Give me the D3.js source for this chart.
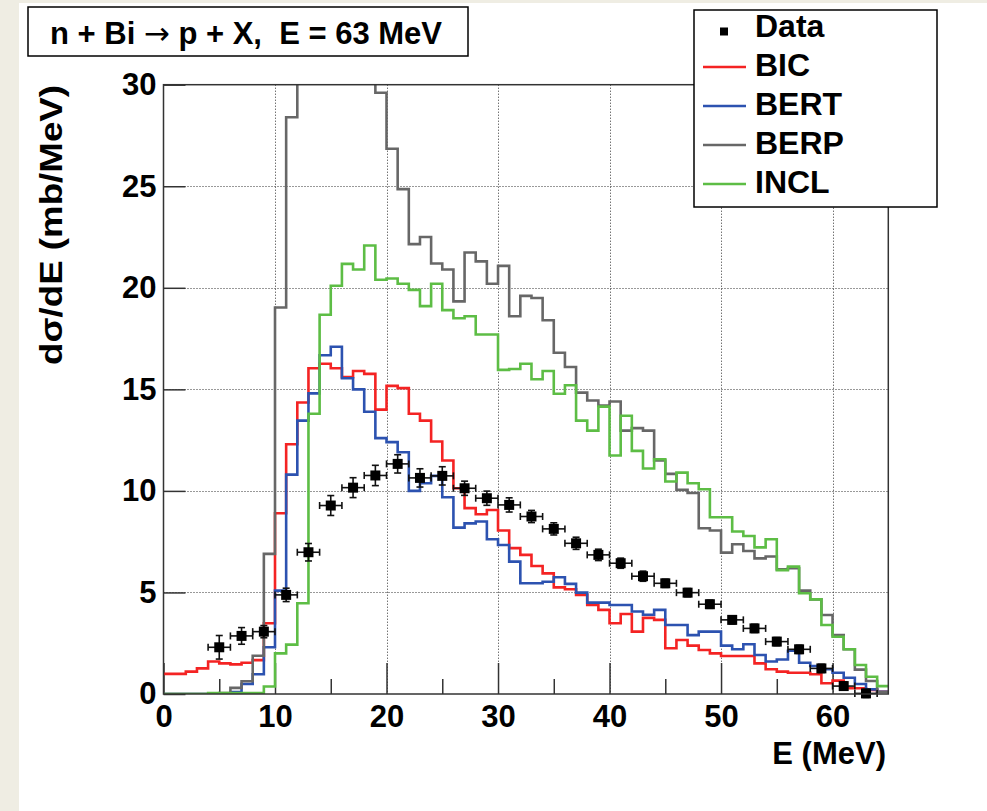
<!DOCTYPE html>
<html>
<head>
<meta charset="utf-8">
<script src="https://cdn.jsdelivr.net/npm/d3@7"></script>
<style>
html, body { margin: 0; padding: 0; background: #efede3; }
svg { display: block; }
text { font-family: "Liberation Sans", Arial, Helvetica, sans-serif; font-weight: bold; fill: #000; }
</style>
</head>
<body>
<svg id="chart" width="987" height="811"></svg>
<script>
// histogram bins: 1 MeV wide, 0..65 MeV
const binWidth = 1;
const nBins = 65;

const bic = [0.99, 0.99, 1.1, 1.26, 1.6, 1.51, 1.46, 1.54, 1.67, 3.48,
	8.9, 12.3, 14.35, 16.04, 16.26, 16.04, 15.6, 15.9, 15.76, 14.0,
	15.17, 15.06, 13.8, 13.46, 12.43, 11.5, 10.13, 9.15, 8.85, 9.06,
	8.05, 7.18, 6.85, 6.3, 5.94, 5.25, 5.16, 4.88, 4.38, 4.14,
	3.48, 3.94, 3.07, 3.75, 3.65, 2.25, 2.66, 2.38, 2.17, 2.0,
	1.87, 1.87, 1.87, 1.51, 1.22, 1.1, 1.05, 1.05, 0.97, 0.53,
	0.66, 0.28, 0.28, 0.2, 0.11];

const bert = [0, 0, 0, 0, 0, 0, 0.1, 0.49, 0.97, 2.3,
	5.09, 10.8, 13.46, 14.8, 16.68, 17.1, 15.55, 15.0, 13.9, 12.6,
	12.4, 11.9, 10.0, 10.38, 10.74, 9.69, 8.19, 8.4, 8.49, 7.62,
	7.34, 6.52, 5.45, 5.45, 5.53, 5.75, 5.42, 4.99, 4.5, 4.5,
	4.38, 4.38, 4.06, 3.9, 4.14, 3.4, 3.4, 2.9, 3.07, 3.07,
	2.38, 2.2, 2.45, 1.92, 1.6, 1.7, 2.13, 1.54, 1.38, 1.22,
	1.05, 0.8, 0.49, 0.23, 0.11];

// bins 12-18 run off the top of the frame; values there are guesses
const berp = [0, 0, 0, 0, 0, 0.05, 0.3, 0.63, 1.88, 6.9,
	19.03, 28.4, 32, 35, 37, 37, 36, 34, 31.5, 29.6,
	26.85, 24.86, 22.15, 22.5, 21.2, 20.9, 19.33, 21.74, 21.3, 20.2,
	21.08, 18.6, 19.6, 19.5, 18.4, 16.8, 16.1, 14.84, 14.45, 14.2,
	14.4, 12.97, 13.09, 12.97, 11.5, 10.84, 10.05, 9.9, 8.16, 8.05,
	6.96, 7.37, 7.04, 6.68, 6.77, 6.14, 6.19, 5.09, 4.66, 3.89,
	2.9, 2.2, 1.2, 0.64, 0.1];

const incl = [0, 0, 0, 0, 0.05, 0.05, 0.05, 0.05, 0.05, 0.37,
	2.0, 2.43, 4.47, 13.8, 18.67, 20.1, 21.18, 20.9, 22.08, 20.4,
	20.46, 20.2, 19.9, 19.1, 20.2, 18.9, 18.5, 18.6, 17.7, 17.7,
	15.96, 16.0, 16.26, 15.5, 15.9, 14.78, 15.2, 13.46, 12.97, 14.15,
	11.74, 13.7, 11.97, 11.1, 11.56, 10.46, 10.9, 10.38, 10.08, 8.7,
	8.7, 8.0, 7.78, 7.22, 7.62, 6.1, 6.27, 4.96, 4.66, 3.4,
	2.82, 2.2, 1.43, 0.85, 0.39];

const dataE = [5, 7, 9, 11, 13, 15, 17, 19, 21, 23, 25, 27, 29, 31, 33,
	35, 37, 39, 41, 43, 45, 47, 49, 51, 53, 55, 57, 59, 61, 63];
const dataY = [2.3, 2.86, 3.07, 4.88, 6.98, 9.28, 10.16, 10.76, 11.33, 10.64,
	10.74, 10.13, 9.64, 9.31, 8.74, 8.13, 7.42, 6.85, 6.44, 5.8,
	5.45, 4.99, 4.42, 3.65, 3.23, 2.58, 2.2, 1.26, 0.39, 0.03];
const dataErrY = [0.58, 0.41, 0.3, 0.33, 0.43, 0.49, 0.49, 0.5, 0.45, 0.45,
	0.45, 0.35, 0.35, 0.35, 0.3, 0.3, 0.3, 0.28, 0.25, 0.25,
	0.2, 0.2, 0.2, 0.2, 0.2, 0.2, 0.2, 0.2, 0.2, 0.2];
const dataErrE = 1;

const xMajor = [0, 10, 20, 30, 40, 50, 60];
const xMinor = [5, 15, 25, 35, 45, 55];
const yMajor = [0, 5, 10, 15, 20, 25, 30];

const series = [
	{ name: "BIC", values: bic, color: "#f42323" },
	{ name: "BERT", values: bert, color: "#2c52b0" },
	{ name: "BERP", values: berp, color: "#676767" },
	{ name: "INCL", values: incl, color: "#5dbd45" }
];

const svg = d3.select("#chart");
const W = 987, H = 811;
const pLeft = 163.5, pRight = 888.3, pTop = 84.7, pBottom = 694;

// white page over the cream border
svg.append("rect").attr("x", 19).attr("y", 3).attr("width", W - 19).attr("height", H - 3).attr("fill", "#fff");

const x = d3.scaleLinear().domain([0, nBins * binWidth]).range([pLeft, pRight]);
const y = d3.scaleLinear().domain([0, 30]).range([pBottom, pTop]);

// dotted grid
const grid = svg.append("g").attr("stroke", "#333").attr("stroke-width", 1).attr("stroke-dasharray", "1,2");
grid.selectAll("line.gx").data(xMajor.filter(d => d > 0)).join("line")
	.attr("x1", d => Math.round(x(d)) + 0.5).attr("x2", d => Math.round(x(d)) + 0.5)
	.attr("y1", pTop).attr("y2", pBottom);
grid.selectAll("line.gy").data(yMajor.filter(d => d > 0 && d < 30)).join("line")
	.attr("x1", pLeft).attr("x2", pRight)
	.attr("y1", d => Math.round(y(d)) + 0.5).attr("y2", d => Math.round(y(d)) + 0.5);

// axes
function styleAxis(g) {
	g.select(".domain").remove();
	g.selectAll(".tick line").attr("stroke", "#333").attr("stroke-width", 1.5);
	g.selectAll(".tick text").attr("font-size", 31).attr("fill", "#000");
	g.attr("font-family", null).attr("font-size", null);
}
svg.append("g").attr("transform", `translate(${pLeft},0)`)
	.call(d3.axisLeft(y).tickValues(yMajor).tickSize(-22).tickPadding(7).tickFormat(d3.format("d")))
	.call(styleAxis);
svg.append("g").attr("transform", `translate(0,${pBottom})`)
	.call(d3.axisBottom(x).tickValues(xMajor).tickSize(-31).tickPadding(11).tickFormat(d3.format("d")))
	.call(styleAxis);
svg.append("g").attr("transform", `translate(0,${pBottom})`)
	.call(d3.axisBottom(x).tickValues(xMinor).tickSize(-15).tickFormat(""))
	.call(styleAxis);

// histograms
svg.append("defs").append("clipPath").attr("id", "clip")
	.append("rect").attr("x", pLeft).attr("y", pTop).attr("width", pRight - pLeft).attr("height", pBottom - pTop);

const step = d3.line().x(d => x(d[0])).y(d => y(d[1])).curve(d3.curveStepAfter);
svg.append("g").attr("clip-path", "url(#clip)")
	.selectAll("path").data(series).join("path")
	.attr("fill", "none")
	.attr("stroke", d => d.color)
	.attr("stroke-width", 2.6)
	.attr("d", d => step(d.values.map((v, i) => [i * binWidth, v]).concat([[nBins * binWidth, d.values[nBins - 1]]])));

// data points with error bars
const pts = dataE.map((e, i) => ({ e: e, v: dataY[i], ey: dataErrY[i] }));
const cap = 3.5;
const eb = svg.append("g").attr("stroke", "#111").attr("stroke-width", 1.6);
pts.forEach(p => {
	const cx = x(p.e), cy = y(p.v);
	const x0 = x(p.e - dataErrE), x1 = x(p.e + dataErrE);
	const y0 = y(p.v - p.ey), y1 = y(p.v + p.ey);
	eb.append("line").attr("x1", x0).attr("x2", x1).attr("y1", cy).attr("y2", cy);
	eb.append("line").attr("x1", x0).attr("x2", x0).attr("y1", cy - cap).attr("y2", cy + cap);
	eb.append("line").attr("x1", x1).attr("x2", x1).attr("y1", cy - cap).attr("y2", cy + cap);
	eb.append("line").attr("x1", cx).attr("x2", cx).attr("y1", y0).attr("y2", y1);
	eb.append("line").attr("x1", cx - cap).attr("x2", cx + cap).attr("y1", y0).attr("y2", y0);
	eb.append("line").attr("x1", cx - cap).attr("x2", cx + cap).attr("y1", y1).attr("y2", y1);
});
svg.append("g").selectAll("path").data(pts).join("path")
	.attr("d", d3.symbol(d3.symbolSquare, 100))
	.attr("transform", d => `translate(${x(d.e)},${y(d.v)})`)
	.attr("fill", "#000");

// frame
svg.append("rect").attr("x", pLeft).attr("y", pTop).attr("width", pRight - pLeft).attr("height", pBottom - pTop)
	.attr("fill", "none").attr("stroke", "#333").attr("stroke-width", 1.5);

// axis titles
svg.append("text").attr("x", 886).attr("y", 764).attr("text-anchor", "end").attr("font-size", 31).text("E (MeV)");
svg.append("text").attr("transform", "translate(62,225) rotate(-90)").attr("text-anchor", "middle")
	.attr("font-size", 31).attr("textLength", 280).attr("lengthAdjust", "spacingAndGlyphs")
	.text("dσ/dE (mb/MeV)");

// title box
svg.append("rect").attr("x", 28).attr("y", 7).attr("width", 440).attr("height", 49)
	.attr("fill", "#fff").attr("stroke", "#000").attr("stroke-width", 1.5);
const title = svg.append("text").attr("x", 50).attr("y", 44).attr("font-size", 31)
	.attr("textLength", 392).attr("lengthAdjust", "spacingAndGlyphs")
	.style("white-space", "pre");
title.append("tspan").text("n + Bi ");
title.append("tspan").attr("font-family", "DejaVu Sans").attr("font-weight", "normal").text("\u2192");
title.append("tspan").text(" p + X,  E = 63 MeV");

// legend
const lg = svg.append("g");
lg.append("rect").attr("x", 694).attr("y", 10).attr("width", 243).attr("height", 197)
	.attr("fill", "#fff").attr("stroke", "#000").attr("stroke-width", 1.5);
const entries = [{ name: "Data", color: null }].concat(series);
entries.forEach((s, i) => {
	const base = 37 + i * 39;
	if (s.color) {
		lg.append("line").attr("x1", 703).attr("x2", 746).attr("y1", base - 9).attr("y2", base - 9)
			.attr("stroke", s.color).attr("stroke-width", 2.6);
	} else {
		lg.append("rect").attr("x", 720).attr("y", base - 9.5).attr("width", 8).attr("height", 8).attr("fill", "#000");
	}
	lg.append("text").attr("x", 755).attr("y", base).attr("font-size", 32).text(s.name);
});
</script>
</body>
</html>
